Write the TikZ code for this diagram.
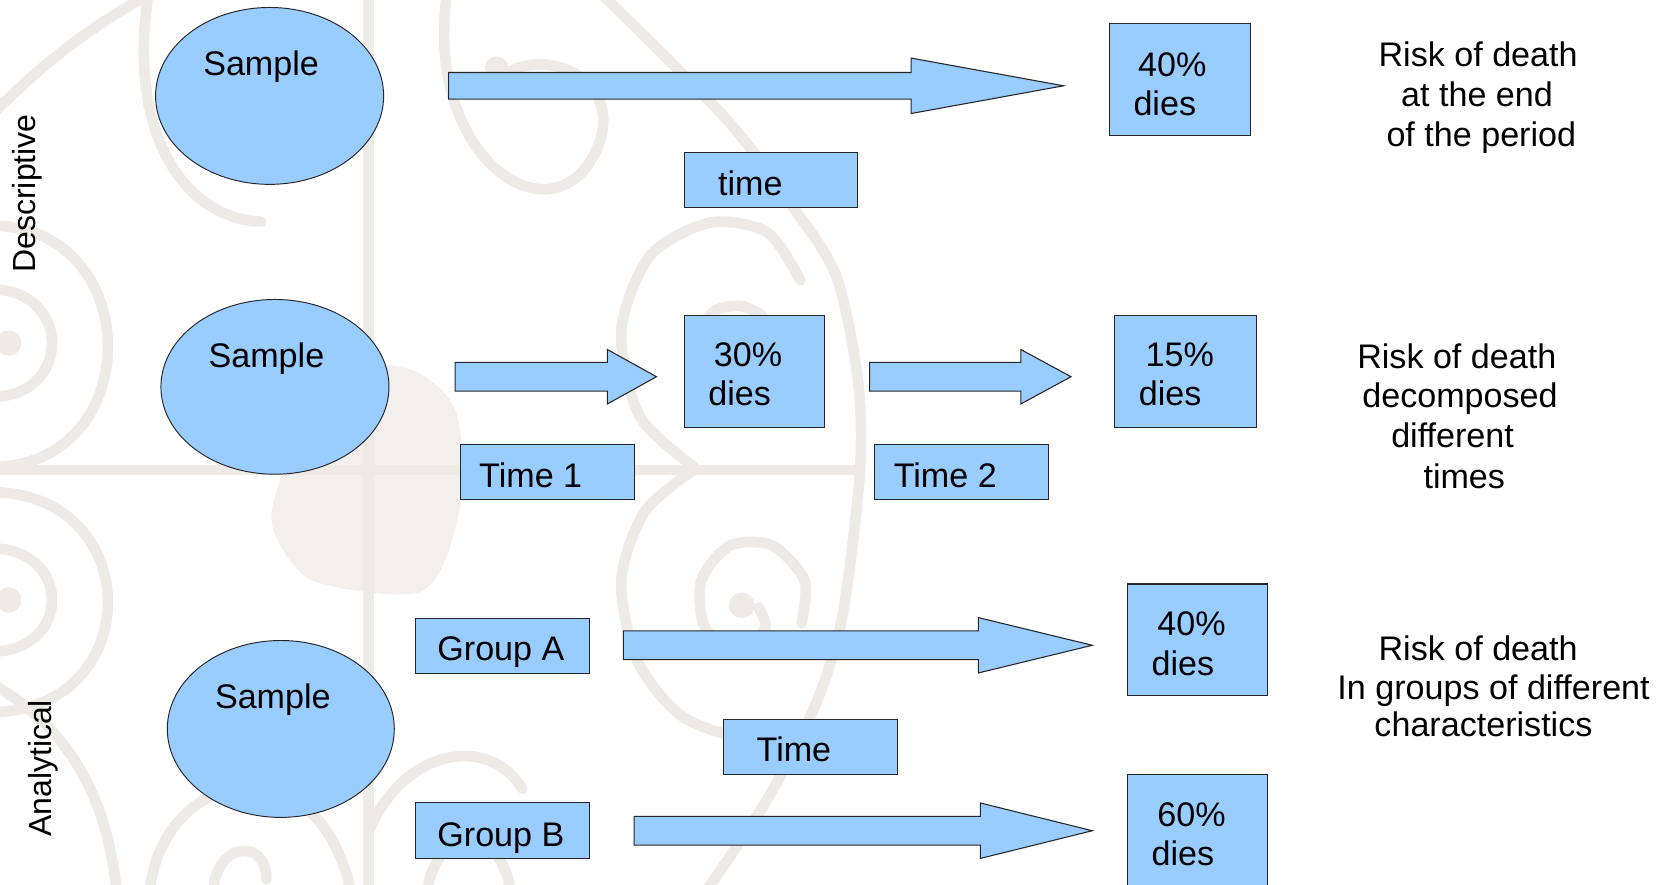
\documentclass[tikz,border=0pt]{standalone}
\usepackage{fontspec}
\setmainfont{Liberation Sans}
\usetikzlibrary{shapes.geometric,calc}
\definecolor{boxblue}{HTML}{99CCFF}
\definecolor{bgline}{RGB}{238,234,230}
\tikzset{
  bgstroke/.style={draw=bgline,line width=10pt,line cap=round},
  bluebox/.style={draw=black!85,fill=boxblue,line width=1pt,rectangle,inner sep=0pt},
  blueoval/.style={draw=black!85,fill=boxblue,line width=0.9pt,ellipse,inner sep=0pt},
  lbl/.style={font=\fontsize{32}{38}\selectfont,anchor=base,inner sep=0pt},
  side/.style={font=\fontsize{30}{36}\selectfont,anchor=base,inner sep=0pt,rotate=90},
  barrow/.style={draw=black!85,fill=boxblue,line width=1pt,line join=miter},
}
\newcommand{\blockarrow}[5]{\draw[barrow] ($(#1)+(0,#4)$) -- ($(#2)+(-#3,#4)$) -- ($(#2)+(-#3,#5)$) -- (#2) -- ($(#2)+(-#3,-#5)$) -- ($(#2)+(-#3,-#4)$) -- ($(#1)+(0,-#4)$) -- cycle;}
\begin{document}
\begin{tikzpicture}[x=1pt,y=-1pt]
\useasboundingbox (0,0) rectangle (1568,830);
\fill[white] (0,0) rectangle (1568,830);
% faint background ornament
\begin{scope}
\clip (0,0) rectangle (1568,830);
\fill[bgline!75] plot[smooth cycle] coordinates {(300,350) (380,345) (425,380) (435,450) (420,520) (395,555) (340,555) (285,540) (255,490) (270,430)};
\draw[bgstroke] (346,-10) -- (346,840);
\draw[bgstroke] (-10,441) -- (807,441);
\draw[bgstroke] plot[smooth] coordinates {(560,-10) (680,110) (744,194) (785,260) (805,357) (807,441) (791,575) (767,657) (720,750) (660,840)};
\draw[bgstroke] (420,-10) .. controls (395,150) and (520,230) .. (560,140) .. controls (590,70) and (500,40) .. (470,75);
\fill[bgline] (466,64) circle (11);
\draw[bgstroke] (140,-10) .. controls (118,120) and (170,205) .. (245,208);
\draw[bgstroke] (-5,105) .. controls (50,50) and (100,15) .. (150,-10);
\draw[bgstroke] (0,212) .. controls (135,220) and (135,430) .. (0,438);
\draw[bgstroke] (0,272) .. controls (65,278) and (65,366) .. (0,372);
\fill[bgline] (8,322) circle (12);
\draw[bgstroke] (0,462) .. controls (135,470) and (135,660) .. (0,668);
\draw[bgstroke] (0,515) .. controls (65,521) and (65,605) .. (0,611);
\fill[bgline] (8,563) circle (12);
\draw[bgstroke] (-10,640) .. controls (60,680) and (100,740) .. (110,840);
\draw[bgstroke] (140,840) .. controls (150,720) and (300,690) .. (330,840);
\draw[bgstroke] (200,840) .. controls (200,790) and (250,785) .. (250,825);
\draw[bgstroke] (346,780) .. controls (380,700) and (460,690) .. (490,740);
\draw[bgstroke] (400,840) .. controls (410,770) and (470,770) .. (480,840);
\draw[bgstroke] plot[smooth] coordinates {(751,263) (720,218) (666,209) (610,240) (583,310) (600,390) (651,438)};
\draw[bgstroke] plot[smooth] coordinates {(655,312) (670,292) (695,287) (715,296)};
\draw[bgstroke] plot[smooth] coordinates {(651,441) (605,480) (583,545) (598,620) (640,672) (700,692) (760,680)};
\draw[bgstroke] plot[smooth] coordinates {(752,585) (755,545) (725,512) (685,512) (658,545) (662,590) (695,606) (718,590) (712,570)};
\fill[bgline] (696,568) circle (12);
\end{scope}
% ellipses
\node[blueoval,minimum width=214pt,minimum height=166pt] (e1) at (253,90) {};
\node[blueoval,minimum width=214pt,minimum height=164pt] (e2) at (258,363) {};
\node[blueoval,minimum width=213pt,minimum height=166pt] (e3) at (263.5,684) {};
% boxes
\node[bluebox,minimum width=132pt,minimum height=105pt] (b40a) at (1107,74.5) {};
\node[bluebox,minimum width=163pt,minimum height=52pt] (btime) at (723.5,169) {};
\node[bluebox,minimum width=132pt,minimum height=105pt] (b30) at (708,348.5) {};
\node[bluebox,minimum width=133pt,minimum height=105pt] (b15) at (1112.5,348.5) {};
\node[bluebox,minimum width=163pt,minimum height=52pt] (bt1) at (513.5,443) {};
\node[bluebox,minimum width=163pt,minimum height=52pt] (bt2) at (902.5,443) {};
\node[bluebox,minimum width=163pt,minimum height=52pt] (bga) at (471.5,606) {};
\node[bluebox,minimum width=131pt,minimum height=105pt] (b40b) at (1123.5,600.5) {};
\node[bluebox,minimum width=163pt,minimum height=52pt] (btime3) at (760.5,701) {};
\node[bluebox,minimum width=163pt,minimum height=53pt] (bgb) at (471.5,779.5) {};
\node[bluebox,minimum width=131pt,minimum height=106pt] (b60) at (1123.5,780) {};
% block arrows
\coordinate (a1s) at (421,80.5);  \coordinate (a1e) at (998,80.5);
\coordinate (a2s) at (427,353.5); \coordinate (a2e) at (616,353.5);
\coordinate (a3s) at (816,353.5); \coordinate (a3e) at (1005,353.5);
\coordinate (aAs) at (585,605.5); \coordinate (aAe) at (1025,605.5);
\coordinate (aBs) at (595,779.5); \coordinate (aBe) at (1025,779.5);
\blockarrow{a1s}{a1e}{143}{12.5}{26}
\blockarrow{a2s}{a2e}{46}{13.5}{25.5}
\blockarrow{a3s}{a3e}{47}{13.5}{25.5}
\blockarrow{aAs}{aAe}{107}{13.5}{26}
\blockarrow{aBs}{aBe}{105}{13.5}{26}
% texts
\node[lbl] (ts1) at (245,71) {Sample};
\node[lbl] (ts2) at (250,345) {Sample};
\node[lbl] (ts3) at (256,665) {Sample};
\node[lbl] (t40a) at (1100,71.5) {40\%};
\node[lbl] (t40ad) at (1093,108.5) {dies};
\node[lbl] (ttime) at (704,183) {time};
\node[lbl] (t30) at (702,343.5) {30\%};
\node[lbl] (t30d) at (694,380.5) {dies};
\node[lbl] (t15) at (1107,343.5) {15\%};
\node[lbl] (t15d) at (1098,380.5) {dies};
\node[lbl] (tt1) at (498,457.5) {Time 1};
\node[lbl] (tt2) at (887,457.5) {Time 2};
\node[lbl] (tga) at (470,619.5) {Group A};
\node[lbl] (tt3) at (745,714.5) {Time};
\node[lbl] (tgb) at (470,794.5) {Group B};
\node[lbl] (t40b) at (1118,596.5) {40\%};
\node[lbl] (t40bd) at (1110,633.5) {dies};
\node[lbl] (t60) at (1118,775.5) {60\%};
\node[lbl] (t60d) at (1110,812.5) {dies};
\node[lbl] (r1a) at (1387,62.5) {Risk of death};
\node[lbl] (r1b) at (1386,100) {at the end};
\node[lbl] (r1c) at (1390,137) {of the period};
\node[lbl] (r2a) at (1367,345.5) {Risk of death};
\node[lbl] (r2b) at (1370,382.5) {decomposed};
\node[lbl] (r2c) at (1363,420) {different};
\node[lbl] (r2d) at (1374,458) {times};
\node[lbl] (r3a) at (1387,619.5) {Risk of death};
\node[lbl] (r3b) at (1401.5,656.5) {In groups of different};
\node[lbl] (r3c) at (1392,691.5) {characteristics};
\node[side] (desc) at (33.5,181.5) {Descriptive};
\node[side] (anal) at (48.5,721) {Analytical};
\end{tikzpicture}
\end{document}
